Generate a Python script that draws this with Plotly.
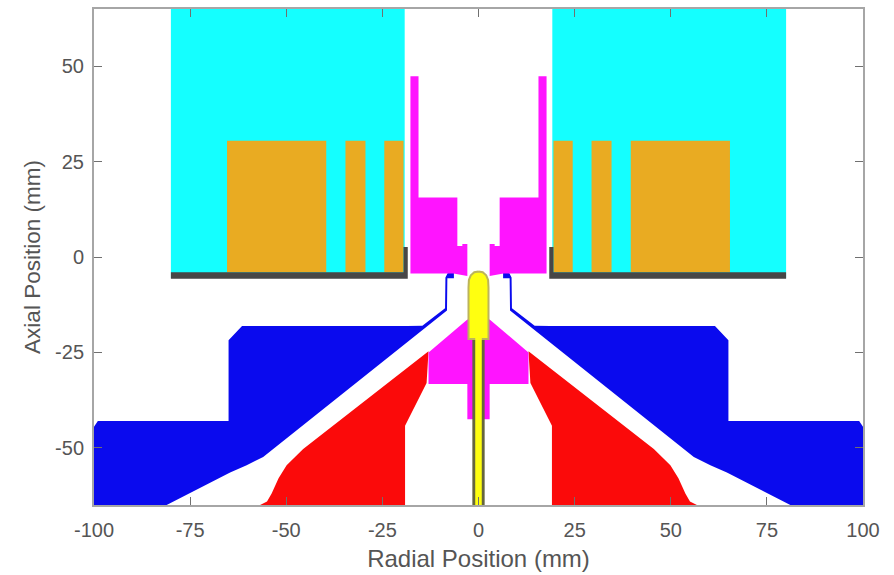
import plotly.graph_objects as go

# Left-half outlines (mm); the right half is the mirror image.
cyan_x = [-80, -19.2, -19.2, -80]
cyan_y = [65, 65, -5.5, -5.5]
coil1_x = [-65.4, -39.6, -39.6, -65.4]
coil2_x = [-34.6, -29.4, -29.4, -34.6]
coil3_x = [-24.5, -19.5, -19.5, -24.5]
coil_y = [30.5, 30.5, -4, -4]
plate_x = [-80, -19.5, -19.5, -18.4, -18.4, -80]
plate_y = [-4, -4, 2.6, 2.6, -5.7, -5.7]
upper_mag_x = [-17.7, -15.6, -15.6, -5.5, -5.5, -4.2, -4.2, -2.9, -2.9, -6.5, -17.7]
upper_mag_y = [47.4, 47.4, 15.6, 15.6, 2.9, 2.9, 3.4, 3.4, -5.0, -4.3, -4.3]
blue_x = [-100, -100, -99, -65, -65, -61.5, -18.5, -14.6, -8.7, -8.6, -8.0, -6.4, -6.4, -8.1, -8.2, -13.9, -49.9, -56, -60.3, -64.6, -81.1]
blue_y = [-65, -44.5, -43, -43, -21.8, -18.1, -18.1, -18, -13.4, -5.4, -4.2, -4.2, -5.6, -5.6, -14, -18.6, -47.7, -52.4, -54.6, -56.5, -65]
red_x = [-56.8, -55, -53.8, -52, -49.9, -45.6, -13, -13.5, -19.1, -19.1]
red_y = [-65, -64.1, -62, -58, -54.6, -50.3, -24.7, -33, -44.2, -65]
lower_mag_x = [0, -2.9, -13, -13, -2.9, -2.9, 0]
lower_mag_y = [-16.4, -16.4, -25, -33.3, -33.3, -42.5, -42.5]
head_x = [0, -1.1, -2.0, -2.5, -2.6, -2.6, 0]
head_y = [-3.8, -4.0, -4.8, -6, -8, -21.5, -21.5]
sheath_x = [0, -1.6, -1.6, 0]
sheath_y = [-20, -20, -65, -65]
needle_x = [0, -0.85, -0.85, 0]
needle_y = [-4.8, -4.8, -65, -65]
x_ticks = [-100, -75, -50, -25, 0, 25, 50, 75, 100]
x_labels = ["-100", "-75", "-50", "-25", "0", "25", "50", "75", "100"]
y_ticks = [-50, -25, 0, 25, 50]
y_labels = ["-50", "-25", "0", "25", "50"]

CYAN, GOLD, GRAPHITE = "#14ffff", "#e9ab22", "#474747"
MAGENTA, BLUE, RED = "#ff14ff", "#0a0aee", "#fb0a0a"
OLIVE, YELLOW = "#bcb45c", "#ffff10"
DARK = "#66663e"


def both_sides(xs, ys):
    return xs + [None] + [-v for v in xs], ys + [None] + ys


def symmetric(xs, ys):
    return xs + [-v for v in reversed(xs)], ys + list(reversed(ys))


def patch(fig, xs, ys, color):
    fig.add_trace(go.Scatter(x=xs, y=ys, mode="lines", fill="toself", fillcolor=color,
                             line=dict(width=0, color=color), hoverinfo="skip", showlegend=False))


fig = go.Figure()
patch(fig, *both_sides(cyan_x, cyan_y), CYAN)
for cx in (coil1_x, coil2_x, coil3_x):
    patch(fig, *both_sides(cx, coil_y), GOLD)
patch(fig, *both_sides(plate_x, plate_y), GRAPHITE)
patch(fig, *both_sides(blue_x, blue_y), BLUE)
patch(fig, *both_sides(red_x, red_y), RED)
patch(fig, *both_sides(upper_mag_x, upper_mag_y), MAGENTA)
patch(fig, *symmetric(lower_mag_x, lower_mag_y), MAGENTA)
patch(fig, *symmetric(sheath_x, sheath_y), DARK)
fig.add_trace(go.Scatter(x=symmetric(head_x, head_y)[0], y=symmetric(head_x, head_y)[1], mode="lines",
                         fill="toself", fillcolor=YELLOW, line=dict(width=2, color=OLIVE),
                         hoverinfo="skip", showlegend=False))
patch(fig, *symmetric(needle_x, needle_y), YELLOW)

axis = dict(showgrid=False, zeroline=False, showline=True, linecolor="#a6a6a6", linewidth=2, mirror="ticks",
            ticks="inside", ticklen=8, tickwidth=1, tickcolor="#707070",
            tickfont=dict(family="Liberation Sans", size=20, color="#555555"))
fig.update_layout(
    width=894, height=575, paper_bgcolor="white", plot_bgcolor="white",
    margin=dict(l=94, r=31, t=7, b=69), showlegend=False,
    font=dict(family="Liberation Sans"),
    xaxis=dict(axis, range=[-100, 100], tickvals=x_ticks, ticktext=x_labels, ticklabelstandoff=6,
               title=dict(text="Radial Position (mm)", standoff=10,
                          font=dict(family="Liberation Sans", size=24, color="#555555"))),
    yaxis=dict(axis, range=[-65, 65], tickvals=y_ticks, ticktext=y_labels, ticklabelstandoff=4,
               title=dict(text="Axial Position (mm)", standoff=8,
                          font=dict(family="Liberation Sans", size=22.5, color="#555555"))),
)
fig.write_html("out.html", config={"displayModeBar": False},
               post_script="document.body.style.margin='0';")
